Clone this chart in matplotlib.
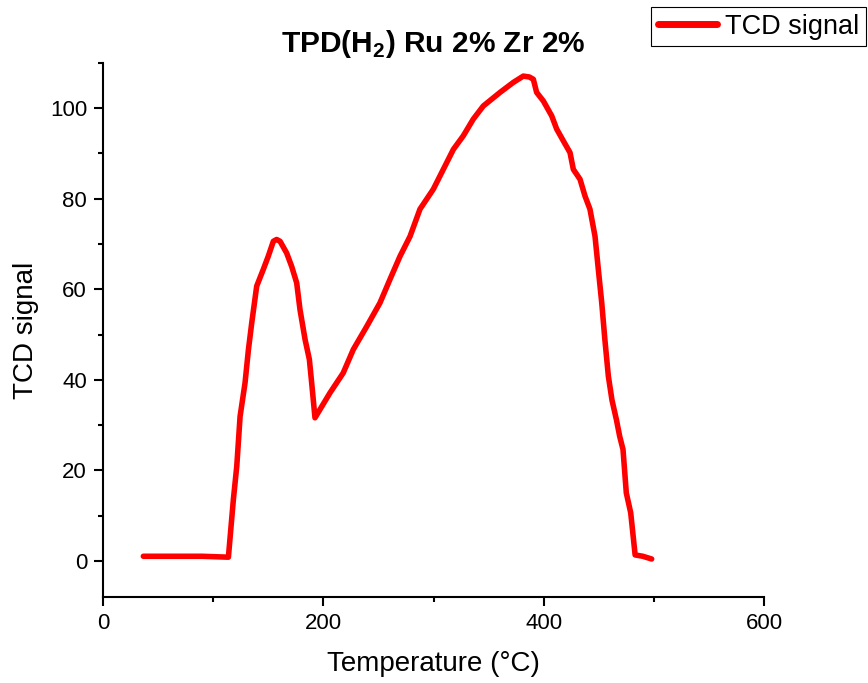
import matplotlib
matplotlib.use("Agg")
import matplotlib.pyplot as plt
from matplotlib.ticker import MultipleLocator

plt.rcParams['font.family'] = ['Liberation Sans', 'DejaVu Sans']
plt.rcParams['mathtext.fontset'] = 'custom'
plt.rcParams['mathtext.rm'] = 'Liberation Sans'
plt.rcParams['mathtext.bf'] = 'Liberation Sans:bold'

# TPD(H2) profile: temperature (°C) and TCD signal
temperature = [36.6, 60, 90, 113.8, 116, 118.3, 121.4, 124.4, 128.9, 132, 135,
               139.5, 145.5, 150, 154.6, 157.6, 160.7, 166.7, 171.3, 175.8,
               178.8, 183.4, 187.3, 189.4, 192.4, 206, 218, 227.2, 239.4,
               251.4, 260.5, 269.6, 278.7, 287.7, 299.8, 308.9, 318, 327,
               336.1, 345.2, 360.4, 372.4, 381.5, 387, 390.6, 393.6, 399.7,
               407.3, 411.8, 417.8, 423.9, 426.9, 433, 437.5, 442, 446.6, 449.6,
               452.7, 455.5, 458.7, 462, 466, 469, 472, 475, 479, 483, 490, 498]
signal = [1.0, 1.0, 1.0, 0.8, 7.0, 13.5, 20.9, 31.9, 39.3, 46.7, 52.6,
          60.7, 64.4, 67.3, 70.6, 71.0, 70.6, 68.0, 65.0, 61.4,
          55.5, 48.9, 44.5, 39.3, 31.6, 37.1, 41.5, 46.7, 51.8,
          57.0, 62.2, 67.3, 71.7, 77.7, 82.1, 86.5, 90.9, 93.9,
          97.6, 100.5, 103.5, 105.7, 107.1, 106.9, 106.4, 103.5, 101.6,
          98.3, 95.4, 92.8, 90.2, 86.5, 84.3, 80.6, 77.7, 71.7, 64.4,
          57.0, 49.0, 40.8, 35.5, 31.2, 27.5, 24.6, 15.0, 10.6, 1.3, 1.0, 0.4]

fig = plt.figure(figsize=(8.68, 6.83), dpi=100)
ax = fig.add_axes([0.1187, 0.1259, 0.7615, 0.7819])

ax.plot(temperature, signal, color='#ff0000', lw=4.0, solid_joinstyle='round',
        solid_capstyle='round', label='TCD signal')

ax.set_xlim(0, 600)
ax.set_ylim(-8, 110)
ax.xaxis.set_major_locator(MultipleLocator(200))
ax.xaxis.set_minor_locator(MultipleLocator(100))
ax.yaxis.set_major_locator(MultipleLocator(20))
ax.yaxis.set_minor_locator(MultipleLocator(10))

for side in ('top', 'right'):
    ax.spines[side].set_visible(False)
for side in ('left', 'bottom'):
    ax.spines[side].set_linewidth(1.5)

ax.tick_params(which='major', direction='out', length=6.5, width=1.5,
               labelsize=16)
ax.tick_params(axis='x', which='major', pad=5)
ax.tick_params(axis='y', which='major', pad=5)
ax.tick_params(which='minor', direction='out', length=3.5, width=1.5)

ax.set_xlabel('Temperature (°C)', fontsize=20, labelpad=12.5)
ax.set_ylabel('TCD signal', fontsize=20, labelpad=7.5)
ax.set_title(r'TPD(H$_\mathbf{2}$) Ru 2% Zr 2%', fontsize=21.5,
             fontweight='bold', pad=8)

leg = ax.legend(loc='upper right', bbox_to_anchor=(0.998, 0.99),
                bbox_transform=fig.transFigure, fontsize=19.5,
                fancybox=False, framealpha=1, edgecolor='black',
                handlelength=2.2, handletextpad=0.3, borderpad=0.25,
                borderaxespad=0)
leg.get_frame().set_linewidth(0.8)
leg.get_lines()[0].set_linewidth(5)

fig.savefig('out.png', dpi=100)
